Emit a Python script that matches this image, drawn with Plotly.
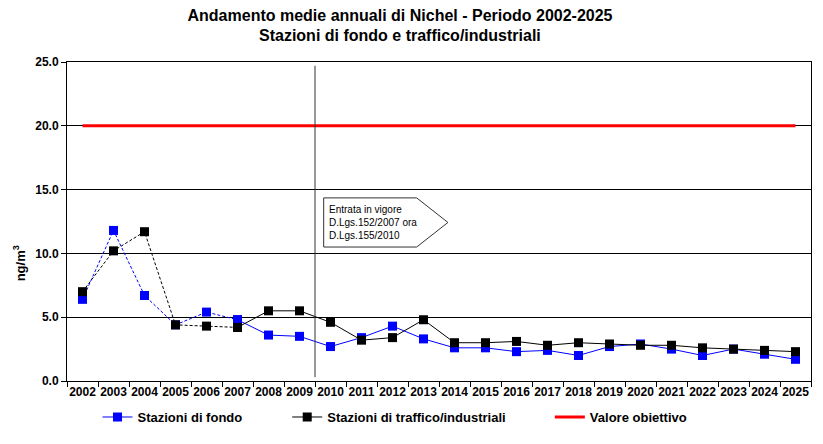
import plotly.graph_objects as go

anni = [str(a) for a in range(2002, 2026)]

fondo = [6.4, 11.8, 6.7, 4.4, 5.4, 4.8, 3.6, 3.5, 2.7, 3.4, 4.3, 3.3,
         2.6, 2.6, 2.3, 2.4, 2.0, 2.7, 2.9, 2.5, 2.0, 2.5, 2.1, 1.7]
traffico = [7.0, 10.2, 11.7, 4.4, 4.3, 4.2, 5.5, 5.5, 4.6, 3.2, 3.4, 4.8,
            3.0, 3.0, 3.1, 2.8, 3.0, 2.9, 2.8, 2.8, 2.6, 2.5, 2.4, 2.3]
obiettivo = [20.0] * len(anni)

# gli anni fino al 2007 sono tratteggiati
n_tratt = 6

BLU = "#0000FF"
NERO = "#000000"
ROSSO = "#FF0000"
FONT = "Liberation Sans, Arial, sans-serif"

fig = go.Figure()

for nome, valori, col, leg in [
    ("Stazioni di fondo", fondo, BLU, "legend"),
    ("Stazioni di traffico/industriali", traffico, NERO, "legend2"),
]:
    fig.add_trace(go.Scatter(
        x=anni[:n_tratt], y=valori[:n_tratt],
        mode="lines+markers",
        line=dict(color=col, width=1, dash="3px,2px"),
        marker=dict(symbol="square", size=9, color=col),
        showlegend=False, hoverinfo="skip",
    ))
    fig.add_trace(go.Scatter(
        x=anni[n_tratt - 1:], y=valori[n_tratt - 1:],
        name=nome, legend=leg,
        mode="lines+markers",
        line=dict(color=col, width=1),
        marker=dict(symbol="square", size=9, color=col),
    ))

fig.add_trace(go.Scatter(
    x=anni, y=obiettivo, name="Valore obiettivo", legend="legend3",
    mode="lines", line=dict(color=ROSSO, width=3),
))

# linea verticale 2009/2010
fig.add_shape(type="line", xref="x", yref="y", x0=7.5, x1=7.5, y0=0.3, y1=24.7,
              line=dict(color="#333333", width=1))

# riquadro a freccia
fig.add_shape(type="path", xref="paper", yref="paper",
              path="M 0.345 0.574 L 0.470 0.574 L 0.512 0.497 L 0.470 0.420 L 0.345 0.420 Z",
              line=dict(color="#333333", width=1), fillcolor="white")
fig.add_annotation(
    xref="paper", yref="paper", x=0.350, y=0.497, xanchor="left", yanchor="middle",
    text="Entrata in vigore<br>D.Lgs.152/2007 ora<br>D.Lgs.155/2010",
    showarrow=False, align="left", font=dict(family=FONT, size=10, color="black"),
)

# seconda riga del titolo (interlinea piu' stretta)
fig.add_annotation(
    xref="paper", yref="paper", x=0.4476, y=1.084, xanchor="center", yanchor="middle",
    text="Stazioni di fondo e traffico/industriali", showarrow=False,
    font=dict(family=FONT, size=16, color="black", weight="bold"),
)

# titolo asse y
fig.add_annotation(
    xref="paper", yref="paper", x=-0.064, y=0.37, xanchor="center", yanchor="middle",
    text="ng/m<sup>3</sup>", textangle=-90, showarrow=False,
    font=dict(family=FONT, size=13, color="black", weight="bold"),
)

leg_common = dict(orientation="h", yanchor="middle", y=-0.113, xanchor="left",
                  font=dict(family=FONT, size=13, color="black", weight="bold"),
                  bgcolor="rgba(0,0,0,0)")

# la pagina ha un margine di 8px: la figura e' ridotta di conseguenza
fig.update_layout(
    width=815, height=436,
    margin=dict(l=59, r=12, t=54, b=63, autoexpand=False),
    paper_bgcolor="white", plot_bgcolor="white",
    font=dict(family=FONT, color="black"),
    title=dict(
        text="Andamento medie annuali di Nichel - Periodo 2002-2025",
        x=0.481, xanchor="center", y=0.982, yanchor="middle",
        font=dict(family=FONT, size=16, color="black", weight="bold"),
    ),
    legend=dict(x=0.041, **leg_common),
    legend2=dict(x=0.296, **leg_common),
    legend3=dict(x=0.649, **leg_common),
    xaxis=dict(
        type="category", range=[-0.5, 23.5], automargin=False,
        showline=True, linecolor="black", linewidth=1, mirror=True,
        showgrid=False, ticks="outside", tickson="boundaries", ticklen=5,
        tickcolor="black", tickangle=0,
        tickfont=dict(family=FONT, size=12, color="black", weight="bold"),
    ),
    yaxis=dict(
        range=[0, 25], dtick=5, tickformat=".1f", automargin=False,
        showline=True, linecolor="black", linewidth=1, mirror=True,
        showgrid=True, gridcolor="black", gridwidth=1,
        ticks="outside", ticklen=5, tickcolor="black",
        tickfont=dict(family=FONT, size=12, color="black", weight="bold"),
        zeroline=False,
    ),
)

fig.write_html("out.html")
